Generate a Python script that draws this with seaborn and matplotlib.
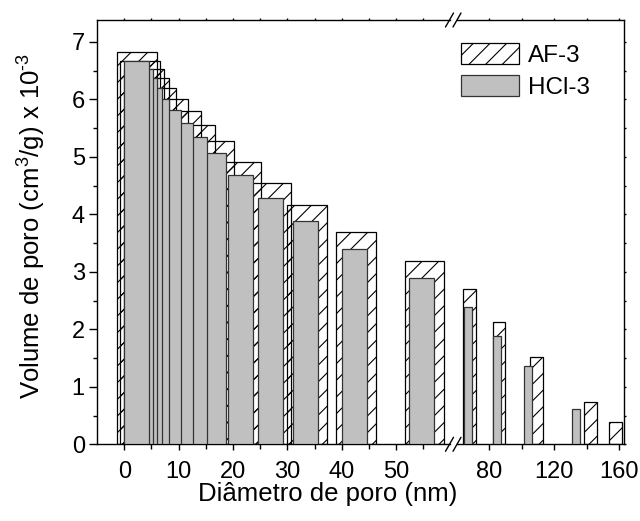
import matplotlib
matplotlib.use("Agg")
import matplotlib.pyplot as plt
import seaborn as sns
from matplotlib.lines import Line2D
from matplotlib.patches import Patch
from matplotlib.ticker import MultipleLocator, FixedLocator

sns.set_theme(style="ticks", rc={
    "axes.edgecolor": "black", "text.color": "black",
    "xtick.color": "black", "ytick.color": "black",
    "axes.labelcolor": "black", "axes.linewidth": 1.0,
})
plt.rcParams['font.family'] = ['Liberation Sans', 'DejaVu Sans']
plt.rcParams['mathtext.fontset'] = 'custom'
plt.rcParams['mathtext.rm'] = 'Liberation Sans'
plt.rcParams['mathtext.default'] = 'regular'
plt.rcParams['hatch.linewidth'] = 0.8

# pore diameter (nm) and pore volume (cm3/g x 10^-3)
af_diam = [2.3, 2.9, 3.6, 4.5, 5.9, 8.0, 10.4, 13.0, 16.5, 21.5, 27.0, 33.6, 42.6, 55.2,
           67.8, 86.0, 109.0, 142.2, 157.6]
af_vol = [6.83, 6.67, 6.52, 6.37, 6.19, 6.00, 5.80, 5.55, 5.28, 4.91, 4.55, 4.16, 3.70, 3.18,
          2.70, 2.12, 1.52, 0.74, 0.38]
hcl_diam = [2.3, 3.0, 3.7, 4.6, 5.9, 8.1, 10.4, 12.9, 16.5, 21.4, 26.9, 33.3, 42.3, 54.6,
            66.7, 84.6, 104.0, 133.5]
hcl_vol = [6.67, 6.52, 6.37, 6.19, 6.00, 5.81, 5.58, 5.34, 5.06, 4.68, 4.29, 3.88, 3.40, 2.89,
           2.39, 1.88, 1.37, 0.62]

left_ticks = [0, 10, 20, 30, 40, 50]
right_ticks = [80, 120, 160]
series = ['AF-3', 'HCl-3']
BREAK = 60
GRAY = '#c0c0c0'

W, H = 640, 521
fig = plt.figure(figsize=(W / 100, H / 100), dpi=100)
bot, top = (H - 444.3) / H, (H - 20) / H
ax1 = fig.add_axes([97.3 / W, bot, (449.5 - 97.3) / W, top - bot])
ax2 = fig.add_axes([457 / W, bot, (624.3 - 457) / W, top - bot], sharey=ax1)


def draw(ax, keep, w_af, w_hcl):
    xa = [x for x in af_diam if keep(x)]
    ya = [v for x, v in zip(af_diam, af_vol) if keep(x)]
    xh = [x for x in hcl_diam if keep(x)]
    yh = [v for x, v in zip(hcl_diam, hcl_vol) if keep(x)]
    ax.bar(xa, ya, width=w_af, facecolor='none', edgecolor='black',
           hatch='//', linewidth=0.9, zorder=2)
    # reversed so that the smaller diameters sit on top
    ax.bar(xh[::-1], yh[::-1], width=w_hcl, facecolor=GRAY, edgecolor='#333333',
           linewidth=0.9, zorder=3)


draw(ax1, lambda x: x < BREAK, 7.34, 4.59)
draw(ax2, lambda x: x > BREAK, 7.6, 4.92)

ax1.set_xlim(-4.95, 59.8)
ax2.set_xlim(60.1, 163.1)
ax1.set_ylim(0, 7.38)

ax1.spines['right'].set_visible(False)
ax2.spines['left'].set_visible(False)

ax1.xaxis.set_major_locator(FixedLocator(left_ticks))
ax1.xaxis.set_minor_locator(MultipleLocator(5))
ax2.xaxis.set_major_locator(FixedLocator(right_ticks))
ax2.xaxis.set_minor_locator(MultipleLocator(20))
ax1.yaxis.set_major_locator(MultipleLocator(1))
ax1.yaxis.set_minor_locator(MultipleLocator(0.5))

for ax in (ax1, ax2):
    ax.tick_params(axis='x', which='major', direction='out', length=4.5, width=1,
                   pad=7.5, labelsize=17)
    ax.tick_params(axis='x', which='minor', direction='out', length=3.5, width=1)
    ax.tick_params(axis='x', which='both', top=True)
ax1.tick_params(axis='y', which='major', direction='out', length=5.5, width=1, labelsize=17)
ax1.tick_params(axis='y', which='minor', direction='out', length=3, width=1)
ax2.tick_params(axis='y', which='both', left=False, labelleft=False, right=True,
                direction='out', length=1.5, width=1)
for ax in (ax1, ax2):
    for t in ax.xaxis.get_major_ticks() + ax.xaxis.get_minor_ticks():
        t.tick2line.set_markersize(1.5)

# axis break marks
for xb in (449.5, 457):
    for yb in (20, 444.3):
        Y = H - yb
        fig.add_artist(Line2D([(xb - 4) / W, (xb + 4) / W], [(Y - 7) / H, (Y + 7) / H],
                              color='black', lw=1.0))

fig.text(328 / W, (H - 494) / H, 'Diâmetro de poro (nm)', ha='center', va='center',
         fontsize=18.5)
fig.text(32 / W, (H - 226) / H, 'Volume de poro (cm$^3$/g) x 10$^{\u2010 3}$', ha='center',
         va='center', rotation=90, fontsize=18.5)

handles = [Patch(facecolor='white', edgecolor='black', hatch='//', linewidth=0.9),
           Patch(facecolor=GRAY, edgecolor='#333333', linewidth=0.9)]
fig.legend(handles, series, loc='upper left', bbox_to_anchor=(460.7 / W, (H - 43) / H),
           frameon=False, fontsize=17.5, handlelength=2.4, handleheight=0.95,
           handletextpad=0.38, labelspacing=0.35, borderpad=0, borderaxespad=0)

fig.savefig('out.png', dpi=100)
